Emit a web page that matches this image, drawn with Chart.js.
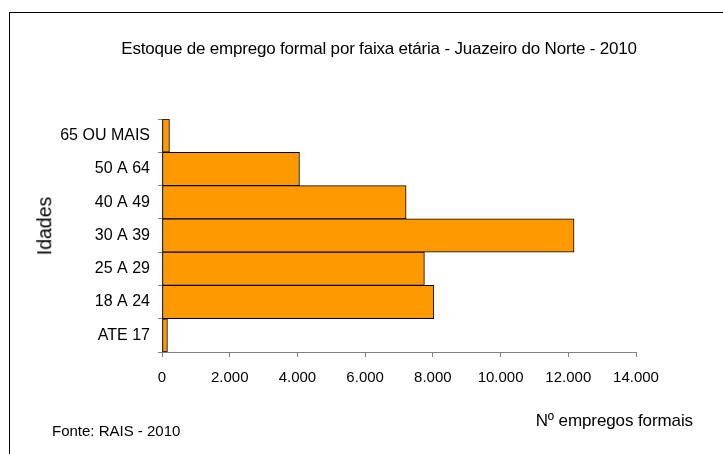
<!DOCTYPE html>
<html lang="pt-br">
<head>
    <meta charset="UTF-8">
    <title>Estoque de emprego formal por faixa etária - Juazeiro do Norte - 2010</title>
    <script src="https://cdn.jsdelivr.net/npm/chart.js"></script>
    <style>
        body { margin: 0; background: #fff; overflow: hidden; }
        .quadro { position: relative; width: 723px; height: 454px; font-family: "Liberation Sans", Arial, sans-serif; color: #000; overflow: hidden; }
        .moldura { position: absolute; left: 9px; top: 12px; width: 800px; height: 500px; border-left: 1px solid #000; border-top: 1px solid #000; }
        .grafico { position: absolute; left: 0; top: 0; width: 723px; height: 454px; }
        .titulo { position: absolute; left: 0; width: 758px; top: 39px; line-height: 20px; font-size: 17px; letter-spacing: -0.2px; text-align: center; white-space: nowrap; }
        .eixoY { position: absolute; left: 44.5px; top: 226px; font-size: 19.5px; line-height: 19.5px; white-space: nowrap; transform: translate(-50%, -50%) rotate(-90deg); }
        .eixoX { position: absolute; right: 30px; top: 411px; line-height: 20px; font-size: 17px; letter-spacing: -0.1px; white-space: nowrap; }
        .fonte { position: absolute; left: 52px; top: 422px; line-height: 18px; font-size: 15px; white-space: nowrap; }
    </style>
</head>
<body>
    <div class="quadro">
        <div class="moldura"></div>
        <div class="grafico"><canvas id="graficoBarras"></canvas></div>
        <div class="titulo">Estoque de emprego formal por faixa etária - Juazeiro do Norte - 2010</div>
        <div class="eixoY">Idades</div>
        <div class="eixoX">Nº empregos formais</div>
        <div class="fonte">Fonte: RAIS - 2010</div>
    </div>

<script>
    // dados
    const faixas = ['65 OU MAIS', '50 A 64', '40 A 49', '30 A 39', '25 A 29', '18 A 24', 'ATE 17'];
    const empregos = [220, 4060, 7210, 12170, 7750, 8030, 160];
    const marcasX = ['0', '2.000', '4.000', '6.000', '8.000', '10.000', '12.000', '14.000'];

    Chart.defaults.font.family = "'Liberation Sans', Arial, sans-serif";
    Chart.defaults.color = '#000';

    new Chart(document.getElementById('graficoBarras'), {
        type: 'bar',
        data: {
            labels: faixas,
            datasets: [{
                label: 'Empregos formais',
                data: empregos,
                backgroundColor: '#FF9900',
                borderColor: '#000',
                borderWidth: 1,
                borderSkipped: false,
                barPercentage: 1,
                categoryPercentage: 1
            }]
        },
        options: {
            indexAxis: 'y',
            animation: false,
            responsive: true,
            maintainAspectRatio: false,
            layout: { padding: { top: 119, right: 87, bottom: 0, left: 0 } },
            plugins: {
                legend: { display: false },
                tooltip: { enabled: false }
            },
            scales: {
                x: {
                    min: 0,
                    max: 14000,
                    ticks: {
                        stepSize: 2000,
                        autoSkip: false,
                        maxRotation: 0,
                        padding: 12,
                        color: '#000',
                        font: { size: 15 },
                        callback: (valor, i) => marcasX[i]
                    },
                    grid: { drawOnChartArea: false, tickLength: 5, color: '#808080' },
                    border: { color: '#808080' },
                    afterFit: s => { s.height = 102; }
                },
                y: {
                    ticks: { padding: 8, color: '#000', font: { size: 16 } },
                    grid: { drawOnChartArea: false, offset: true, tickLength: 4, color: '#808080' },
                    border: { color: '#808080' },
                    afterFit: s => { s.width = 162; }
                }
            }
        }
    });
</script>
</body>
</html>
